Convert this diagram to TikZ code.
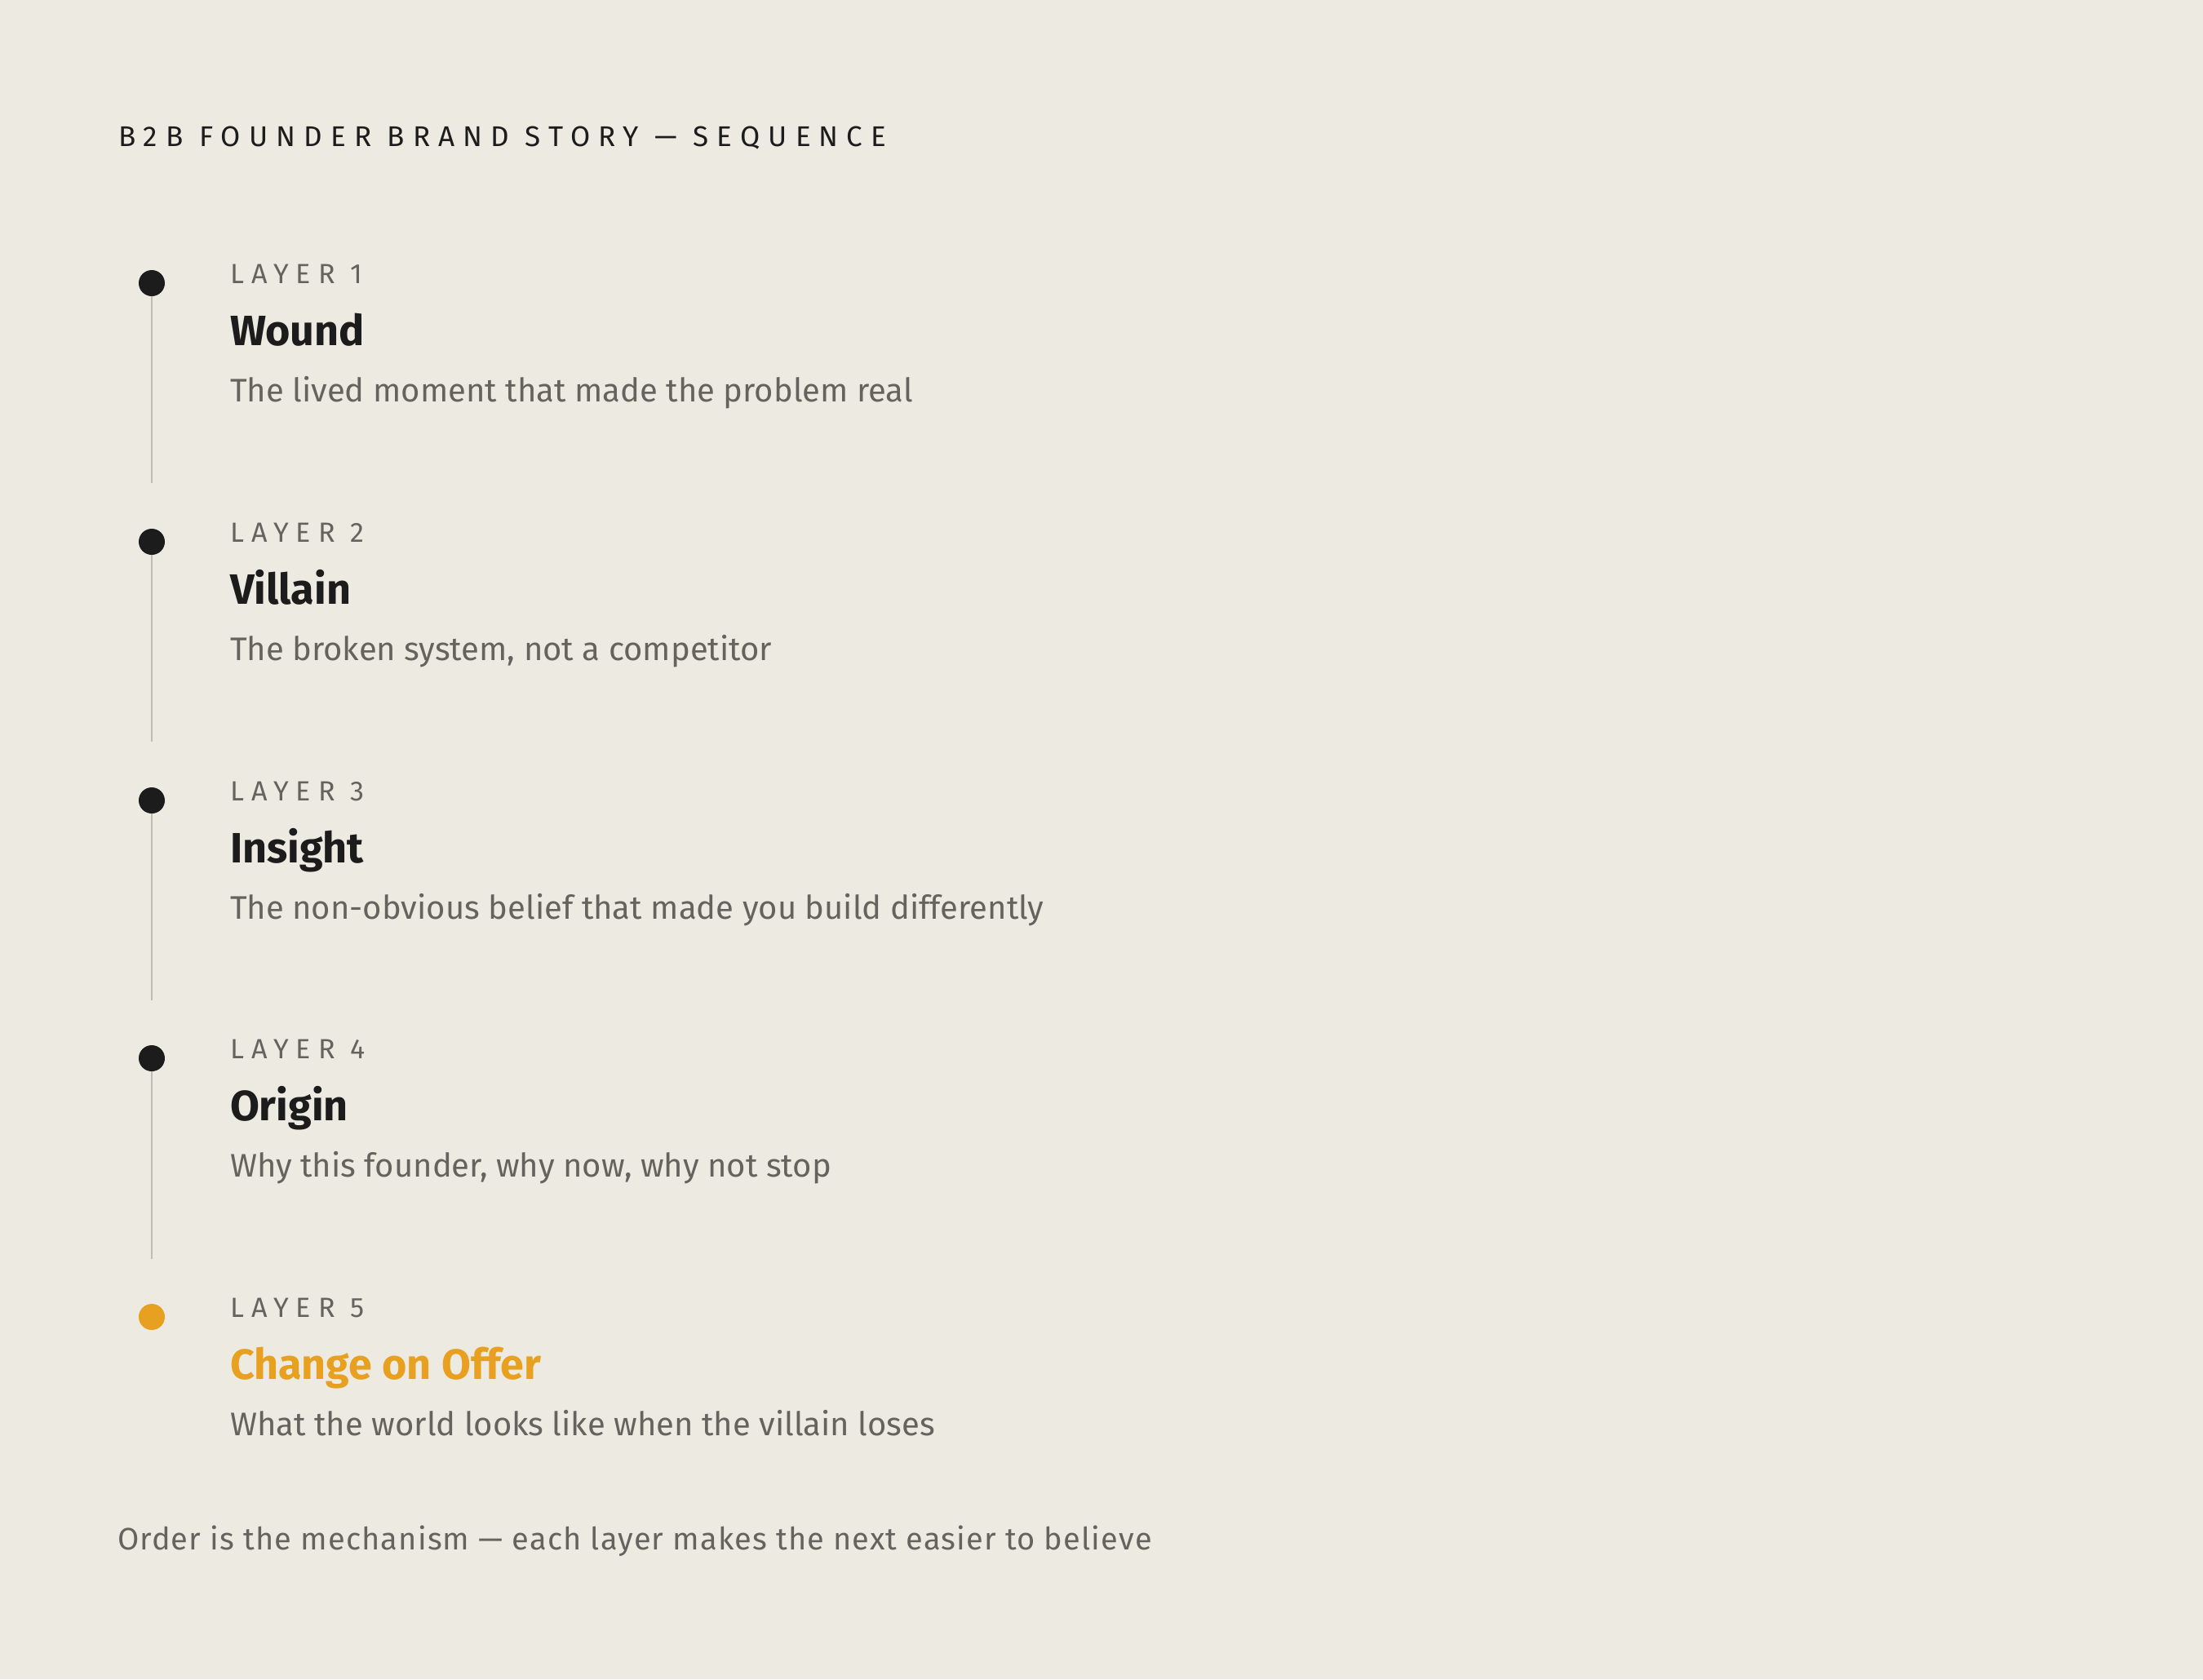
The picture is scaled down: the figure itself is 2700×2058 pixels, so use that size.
\documentclass[tikz,border=0pt]{standalone}
\usepackage{fontspec}
\setmainfont{Fira Sans}
\usepackage{tikz}
\definecolor{paper}{HTML}{EDEAE2}
\definecolor{ink}{HTML}{1C1C1C}
\definecolor{muted}{HTML}{66635E}
\definecolor{rail}{HTML}{BFBCB4}
\definecolor{accent}{HTML}{E8A020}
\tikzset{%
    txt/.style={anchor=base west,inner sep=0pt,outer sep=0pt},
    title/.style={txt,text=ink,font=\fontsize{17.5pt}{20pt}\selectfont\addfontfeatures{LetterSpace=29}},
    layer/.style={txt,text=muted,font=\fontsize{17pt}{20pt}\selectfont\addfontfeatures{LetterSpace=27}},
    head/.style={txt,text=ink,font=\fontsize{26pt}{30pt}\selectfont\bfseries},
    desc/.style={txt,text=muted,font=\fontsize{20pt}{24pt}\selectfont},
    foot/.style={txt,text=muted,font=\fontsize{19pt}{23pt}\selectfont\addfontfeatures{LetterSpace=3}},
    dot/.style={circle,fill=ink,draw=none,minimum size=16pt,inner sep=0pt},
    railline/.style={draw=rail,line width=1.3pt}
}
\begin{document}
\begin{tikzpicture}[x=0.5pt,y=-0.5pt]
    \fill[paper] (0,0) rectangle (2700,2058);
    \useasboundingbox (0,0) rectangle (2700,2058);

    \node[title] (title) at (145,179) {B2B FOUNDER BRAND STORY — SEQUENCE};

    % layer 1
    \coordinate (e1) at (186,592);
    \draw[railline] (186,347) -- (e1);
    \node[dot] (d1) at (186,347) {};
    \node[layer] (l1) at (282,347) {LAYER 1};
    \node[head] (h1) at (282,423) {Wound};
    \node[desc] (t1) at (282,492) {The lived moment that made the problem real};

    % layer 2
    \coordinate (e2) at (186,909);
    \draw[railline] (186,664) -- (e2);
    \node[dot] (d2) at (186,664) {};
    \node[layer] (l2) at (282,664) {LAYER 2};
    \node[head] (h2) at (282,740) {Villain};
    \node[desc] (t2) at (282,809) {The broken system, not a competitor};

    % layer 3
    \coordinate (e3) at (186,1226);
    \draw[railline] (186,981) -- (e3);
    \node[dot] (d3) at (186,981) {};
    \node[layer] (l3) at (282,981) {LAYER 3};
    \node[head] (h3) at (282,1057) {Insight};
    \node[desc] (t3) at (282,1126) {The non-obvious belief that made you build differently};

    % layer 4
    \coordinate (e4) at (186,1543);
    \draw[railline] (186,1297) -- (e4);
    \node[dot] (d4) at (186,1297) {};
    \node[layer] (l4) at (282,1297) {LAYER 4};
    \node[head] (h4) at (282,1373) {Origin};
    \node[desc] (t4) at (282,1442) {Why this founder, why now, why not stop};

    % layer 5
    \node[dot,fill=accent] (d5) at (186,1614) {};
    \node[layer] (l5) at (282,1614) {LAYER 5};
    \node[head,text=accent] (h5) at (282,1690) {Change on Offer};
    \node[desc] (t5) at (282,1759) {What the world looks like when the villain loses};

    \node[foot] (foot) at (144,1899) {Order is the mechanism — each layer makes the next easier to believe};
\end{tikzpicture}
\end{document}
